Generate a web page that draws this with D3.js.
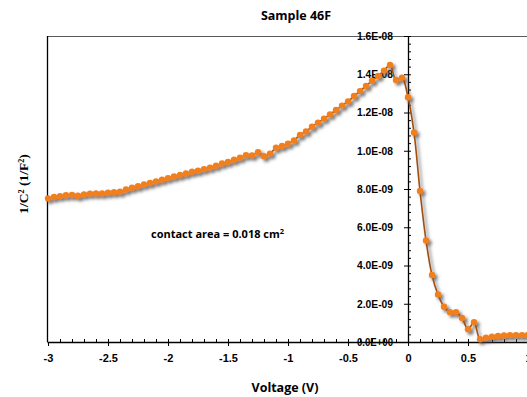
<!DOCTYPE html>
<html>
<head>
<meta charset="utf-8">
<script src="https://cdn.jsdelivr.net/npm/d3@7"></script>
<style>
  body { margin: 0; background: #fff; }
  svg { display: block; font-family: "Open Sans", Lato, sans-serif; }
  .tick text { font-weight: bold; fill: #000; }
</style>
</head>
<body>
<svg></svg>
<script>
// Voltage (V) and 1/C^2 (1/F^2)
const voltage = [-3.00, -2.95, -2.90, -2.85, -2.80, -2.75, -2.70, -2.65, -2.60, -2.55,
  -2.50, -2.45, -2.40, -2.35, -2.30, -2.25, -2.20, -2.15, -2.10, -2.05,
  -2.00, -1.95, -1.90, -1.85, -1.80, -1.75, -1.70, -1.65, -1.60, -1.55,
  -1.50, -1.45, -1.40, -1.35, -1.30, -1.25, -1.20, -1.15, -1.10, -1.05,
  -1.00, -0.95, -0.90, -0.85, -0.80, -0.75, -0.70, -0.65, -0.60, -0.55,
  -0.50, -0.45, -0.40, -0.35, -0.30, -0.25, -0.20, -0.15, -0.10, -0.05,
  0.00, 0.05, 0.10, 0.15, 0.20, 0.25, 0.30, 0.35, 0.40, 0.45,
  0.50, 0.55, 0.60, 0.65, 0.70, 0.75, 0.80, 0.85, 0.90, 0.95, 1.00];
const invC2 = [7.51e-9, 7.58e-9, 7.63e-9, 7.67e-9, 7.69e-9, 7.65e-9, 7.72e-9, 7.76e-9, 7.77e-9, 7.77e-9,
  7.81e-9, 7.83e-9, 7.86e-9, 7.97e-9, 8.07e-9, 8.14e-9, 8.24e-9, 8.31e-9, 8.40e-9, 8.49e-9,
  8.57e-9, 8.66e-9, 8.73e-9, 8.81e-9, 8.90e-9, 8.96e-9, 9.04e-9, 9.12e-9, 9.22e-9, 9.33e-9,
  9.42e-9, 9.53e-9, 9.64e-9, 9.77e-9, 9.76e-9, 9.92e-9, 9.71e-9, 9.85e-9, 10.16e-9, 10.25e-9,
  10.37e-9, 10.54e-9, 10.83e-9, 11.01e-9, 11.26e-9, 11.47e-9, 11.68e-9, 11.90e-9, 12.13e-9, 12.36e-9,
  12.58e-9, 12.86e-9, 13.12e-9, 13.39e-9, 13.66e-9, 13.91e-9, 14.19e-9, 14.48e-9, 13.70e-9, 13.82e-9,
  12.80e-9, 10.96e-9, 7.90e-9, 5.31e-9, 3.50e-9, 2.48e-9, 1.84e-9, 1.56e-9, 1.56e-9, 1.26e-9,
  0.67e-9, 1.03e-9, 0.14e-9, 0.23e-9, 0.28e-9, 0.31e-9, 0.34e-9, 0.36e-9, 0.36e-9, 0.36e-9, 0.37e-9];

const xTicks = [-3, -2.5, -2, -1.5, -1, -0.5, 0, 0.5, 1];
const yTicks = [0, 2e-9, 4e-9, 6e-9, 8e-9, 1e-8, 1.2e-8, 1.4e-8, 1.6e-8];
const yTickLabels = ["0.0E+00", "2.0E-09", "4.0E-09", "6.0E-09", "8.0E-09", "1.0E-08", "1.2E-08", "1.4E-08", "1.6E-08"];

const width = 527, height = 397;
const svg = d3.select("svg").attr("width", width).attr("height", height);

const x = d3.scaleLinear().domain([-3, 1]).range([48, 528]);
const y = d3.scaleLinear().domain([0, 1.6e-8]).range([342, 36]);

// shadow filter like the Excel marker shadow
const defs = svg.append("defs");
const f = defs.append("filter").attr("id", "shadow")
  .attr("x", "-20%").attr("y", "-20%").attr("width", "140%").attr("height", "140%");
f.append("feDropShadow").attr("dx", 2.5).attr("dy", 2.5).attr("stdDeviation", 1.5)
  .attr("flood-color", "#505050").attr("flood-opacity", 0.75);

// plot frame
svg.append("line").attr("x1", 47.5).attr("x2", width).attr("y1", 36.5).attr("y2", 36.5)
  .attr("stroke", "#595959").attr("stroke-width", 1);
svg.append("line").attr("x1", 47.5).attr("x2", 47.5).attr("y1", 36).attr("y2", 342)
  .attr("stroke", "#000").attr("stroke-width", 1.3);

// minor x ticks (inside)
const xMinor = d3.range(-29, 11).map(d => d / 10);
svg.append("g").attr("transform", "translate(0,342)")
  .call(d3.axisTop(x).tickValues(xMinor).tickSize(3).tickFormat(""))
  .call(g => g.select(".domain").remove());

// x axis
svg.append("g").attr("transform", "translate(0,342)")
  .call(d3.axisBottom(x).tickValues(xTicks).tickSize(4).tickPadding(8)
    .tickFormat(d => d))
  .call(g => g.select(".domain").attr("d", "M47.5,0.5H" + width).attr("stroke-width", 1.3))
  .call(g => g.selectAll(".tick text").attr("font-size", "11px"));

// minor y ticks (right side of the axis)
const yMinor = d3.range(1, 41).map(d => d * 4e-10);
svg.append("g").attr("transform", "translate(" + x(0) + ",0)")
  .call(d3.axisRight(y).tickValues(yMinor).tickSize(3).tickFormat(""))
  .call(g => g.select(".domain").remove());

// y axis at V = 0
svg.append("g").attr("transform", "translate(" + x(0) + ",0)")
  .call(d3.axisLeft(y).tickValues(yTicks).tickSize(4).tickPadding(11)
    .tickFormat((d, i) => yTickLabels[i]))
  .call(g => g.select(".domain").attr("d", "M0.5,36V342").attr("stroke-width", 1.3))
  .call(g => g.selectAll(".tick text").attr("font-size", "10.2px")
    .attr("textLength", 36).attr("lengthAdjust", "spacingAndGlyphs"));

const pts = voltage.map((v, i) => ({ v: v, c: invC2[i] }));

const line = d3.line()
  .x(d => x(d.v))
  .y(d => y(d.c))
  .curve(d3.curveCatmullRom.alpha(0.5));

const series = svg.append("g").attr("filter", "url(#shadow)");
series.append("path").attr("d", line(pts))
  .attr("fill", "none").attr("stroke", "#A0500F").attr("stroke-width", 1.6);
series.selectAll("circle").data(pts).enter().append("circle")
  .attr("cx", d => x(d.v)).attr("cy", d => y(d.c)).attr("r", 3.2)
  .attr("fill", "#F07F1E");

// titles
svg.append("text").attr("x", 296).attr("y", 20).attr("text-anchor", "middle")
  .attr("font-size", "12.5px").attr("font-weight", "bold").text("Sample 46F");
svg.append("text").attr("x", 285).attr("y", 392).attr("text-anchor", "middle")
  .attr("font-size", "12.5px").attr("font-weight", "bold").text("Voltage (V)");
svg.append("text").attr("transform", "translate(28,184) rotate(-90)")
  .attr("text-anchor", "middle").attr("font-family", "'Liberation Serif', serif")
  .attr("font-size", "13.5px").attr("font-weight", "bold").text("1/C\u00B2 (1/F\u00B2)");

// annotation
const ann = svg.append("text").attr("x", 151).attr("y", 238)
  .attr("font-size", "11px").attr("font-weight", "bold");
ann.append("tspan").text("contact area = 0.018 cm");
ann.append("tspan").attr("font-size", "7.5px").attr("dy", -4).text("2");
</script>
</body>
</html>
